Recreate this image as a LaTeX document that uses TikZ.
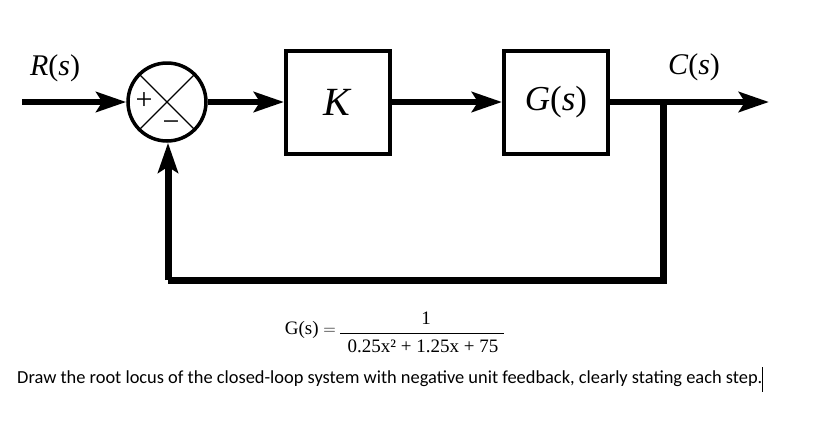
\documentclass[tikz,border=0pt]{standalone}
\usepackage{fontspec}
\setmainfont{Liberation Serif}
\newfontfamily\calfont{Carlito}
\usetikzlibrary{arrows.meta}
\tikzset{
  sig/.style={line width=6pt,-{Stealth[length=30pt,width=20pt,inset=6pt]}},
  fb/.style={line width=7pt},
  blk/.style={draw,line width=4pt,minimum width=104pt,minimum height=103pt,inner sep=0pt,font=\fontsize{40}{44}\selectfont},
  sumc/.style={draw,circle,line width=3.5pt,minimum size=78pt,inner sep=0pt},
  lbl/.style={font=\fontsize{30}{34}\selectfont,inner sep=0pt},
  fml/.style={font=\fontsize{19}{21}\selectfont,inner sep=0pt}
}
\begin{document}
\begin{tikzpicture}[x=1pt,y=-1pt]
\useasboundingbox[fill=white] (0,0) rectangle (828,424);
\node[sumc] (sum) at (167,102) {};
\draw[line width=1.3pt] (sum.45) -- (sum.225) (sum.135) -- (sum.315);
\node[font=\fontsize{30}{32}\selectfont,inner sep=0pt] (plus) at (144,101) {+};
\node[font=\fontsize{30}{32}\selectfont,inner sep=0pt] (minus) at (171,126) {\textminus};
\node[blk] (k) at (338,102) {\textit{K}};
\node[blk,font=\fontsize{35}{40}\selectfont] (g) at (556,102) {\textit{G}(\textit{s})};
\coordinate (in) at (22,102);
\coordinate (out) at (769,102);
\coordinate (br) at (663,102);
\coordinate (b1) at (663,280);
\coordinate (b2) at (168,280);
\node[lbl] (r) at (55,68) {\textit{R}(\textit{s})};
\node[lbl] (c) at (694,67) {\textit{C}(\textit{s})};
\draw[sig] (in) -- (sum.west);
\draw[sig] (sum.east) -- (k.west);
\draw[sig] (k.east) -- (g.west);
\draw[sig] (g.east) -- (out);
\draw[fb] (br) -- (b1) -- (b2);
\draw[fb,-{Stealth[length=30pt,width=20pt,inset=6pt]}] (b2) -- (b2 |- sum.south);
% formula
\node[fml,anchor=east] (lhs) at (336,330) {G(s) $=$};
\node[fml] (num) at (426,318) {1};
\node[fml] (den) at (423,346) {0.25x² + 1.25x + 75};
\coordinate (fl) at (340,333);
\coordinate (fr) at (504,333);
\draw[line width=0.9pt] (fl) -- (fr);
\node[font=\calfont\fontsize{18.4}{20}\selectfont,anchor=west,inner sep=0pt] (q) at (17,379) {Draw the root locus of the closed-loop system with negative unit feedback, clearly stating each step.};
\coordinate (cu1) at (762,367);
\coordinate (cu2) at (762,392);
\draw[line width=1pt] (cu1) -- (cu2);
\end{tikzpicture}
\end{document}
